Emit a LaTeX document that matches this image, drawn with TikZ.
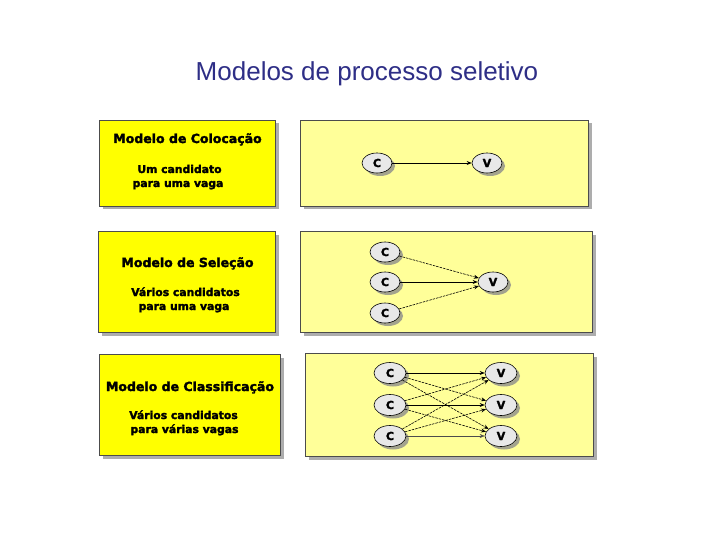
\documentclass[tikz,border=0pt]{standalone}
\usepackage{fontspec}
\setmainfont{Liberation Sans}
\newfontfamily\djfont{DejaVu Sans}[BoldFeatures={FakeBold=2.2}]
\usetikzlibrary{shapes.geometric,arrows.meta,shadows}
\definecolor{titleblue}{RGB}{46,46,134}
\definecolor{boxyellow}{RGB}{255,255,0}
\definecolor{paleyellow}{RGB}{255,255,153}
\definecolor{nodegray}{RGB}{232,232,232}
\tikzset{
  panel/.style={draw=black!70, line width=0.6pt, drop shadow={shadow xshift=3.5pt, shadow yshift=-3.5pt, fill=black!40, opacity=0.8}},
  leftpanel/.style={panel, fill=boxyellow},
  rightpanel/.style={panel, fill=paleyellow},
  ptitle/.style={anchor=base, inner sep=0pt, font=\djfont\bfseries\fontsize{12.5}{14}\selectfont},
  psub/.style={anchor=base, inner sep=0pt, font=\djfont\bfseries\fontsize{10.8}{12}\selectfont},
  cv/.style={ellipse, draw=black, line width=0.6pt, fill=nodegray, minimum width=30pt, minimum height=20pt, inner sep=0pt,
    font=\djfont\bfseries\fontsize{11}{12}\selectfont,
    drop shadow={shadow xshift=3pt, shadow yshift=-3pt, fill=black!45, opacity=0.8}},
  cvb/.style={cv, minimum width=32pt, minimum height=21pt},
  link/.style={-{Stealth[length=5pt,width=4pt]}, line width=0.6pt},
  dlink/.style={link, dash pattern=on 2.5pt off 1pt},
}
\begin{document}
\begin{tikzpicture}[x=1pt,y=-1pt]
\useasboundingbox (0,0) rectangle (720,540);
\node[anchor=base, inner sep=0pt, text=titleblue, font=\fontsize{26}{30}\selectfont] (title) at (367,81) {Modelos de processo seletivo};

% Panel 1
\path[leftpanel] (99,120) rectangle (275,206);
\path[rightpanel] (300,120) rectangle (588,206);
\node[ptitle] (t1) at (187.5,143) {Modelo de Colocação};
\node[psub] (s1a) at (179.5,173) {Um candidato};
\node[psub] (s1b) at (178,187) {para uma vaga};
\node[cv] (c1) at (377,163) {C};
\node[cv] (v1) at (487,163) {V};
\draw[link] (c1) -- (v1);

% Panel 2
\path[leftpanel] (98,231) rectangle (275,332);
\path[rightpanel] (300,231) rectangle (592,332);
\node[ptitle] (t2) at (187.5,267) {Modelo de Seleção};
\node[psub] (s2a) at (185.5,296) {Vários candidatos};
\node[psub] (s2b) at (184,310) {para uma vaga};
\node[cv] (c21) at (385,252) {C};
\node[cv] (c22) at (385,282) {C};
\node[cv] (c23) at (385,313) {C};
\node[cv] (v2) at (493,282) {V};
\draw[dlink] (c21) -- (v2);
\draw[link] (c22) -- (v2);
\draw[dlink] (c23) -- (v2);

% Panel 3
\path[leftpanel] (99,354) rectangle (280,455);
\path[rightpanel] (305,353) rectangle (593,456);
\node[ptitle] (t3) at (190,391) {Modelo de Classificação};
\node[psub] (s3a) at (183.5,419) {Vários candidatos};
\node[psub] (s3b) at (184.5,433) {para várias vagas};
\node[cvb] (c31) at (390,373) {C};
\node[cvb] (c32) at (390,405) {C};
\node[cvb] (c33) at (390,436) {C};
\node[cvb] (v31) at (501,373) {V};
\node[cvb] (v32) at (501,405) {V};
\node[cvb] (v33) at (501,436) {V};
\draw[link] (c31) -- (v31);
\draw[dlink] (c31) -- (v32);
\draw[dlink] (c31) -- (v33);
\draw[dlink] (c32) -- (v31);
\draw[link] (c32) -- (v32);
\draw[dlink] (c32) -- (v33);
\draw[dlink] (c33) -- (v31);
\draw[dlink] (c33) -- (v32);
\draw[link, line width=0.4pt, draw=black!70] (c33) -- (v33);
\end{tikzpicture}
\end{document}
